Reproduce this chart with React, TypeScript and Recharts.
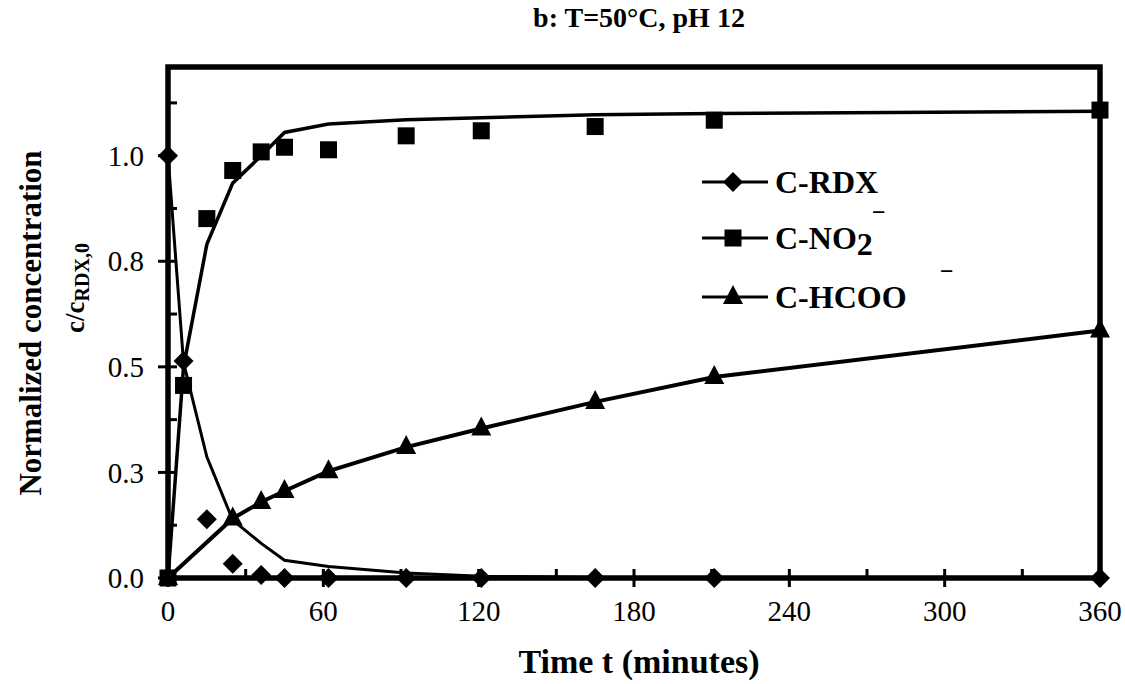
import React from "react";
import { ComposedChart, Line, Scatter, XAxis, YAxis, ReferenceArea } from "recharts";

// measured points (symbols)
const tObs = [0, 6, 15, 25, 36, 45, 62, 92, 121, 165, 211, 360];
const rdxObs = [1.0, 0.514, 0.139, 0.034, 0.007, 0, 0, 0, 0, 0, 0, 0];
const no2Obs = [0, 0.456, 0.851, 0.965, 1.009, 1.02, 1.014, 1.047, 1.059, 1.069, 1.084, 1.108];
const tHcoo = [0, 25, 36, 45, 62, 92, 121, 165, 211, 360];
const hcooObs = [0, 0.141, 0.18, 0.206, 0.253, 0.31, 0.354, 0.417, 0.476, 0.586];

// model curves (lines)
const tModel = [0, 6, 15, 25, 36, 45, 62, 92, 121, 165, 211, 360];
const rdxModel = [1.0, 0.51, 0.287, 0.137, 0.082, 0.042, 0.027, 0.012, 0.004, 0.001, 0, 0];
const no2Model = [0, 0.5, 0.79, 0.935, 1.0, 1.055, 1.075, 1.085, 1.09, 1.097, 1.1, 1.105];

const xMajor = [0, 60, 120, 180, 240, 300, 360];
const xMinor = [30, 90, 150, 210, 270, 330];
const yMajor = [0, 0.25, 0.5, 0.75, 1.0];
const yMinor = [0.125, 0.375, 0.625, 0.875, 1.125];

const legendNames = ["C-RDX", "C-NO", "C-HCOO"];

const FONT = "'Liberation Serif', 'Times New Roman', Times, serif";

const pts = (ts: number[], vs: number[]) => ts.map((t, i) => ({ t, v: vs[i] }));

const rdxPts = pts(tObs, rdxObs);
const no2Pts = pts(tObs, no2Obs);
const hcooPts = pts(tHcoo, hcooObs);
const rdxLine = pts(tModel, rdxModel);
const no2Line = pts(tModel, no2Model);

const diamond = (cx: number, cy: number, r = 10) => (
  <polygon points={`${cx},${cy - r} ${cx + r},${cy} ${cx},${cy + r} ${cx - r},${cy}`} fill="#000" />
);
const square = (cx: number, cy: number, s = 17) => (
  <rect x={cx - s / 2} y={cy - s / 2} width={s} height={s} fill="#000" />
);
const triangle = (cx: number, cy: number) => (
  <polygon points={`${cx},${cy - 12} ${cx + 10},${cy + 7} ${cx - 10},${cy + 7}`} fill="#000" />
);

function XTick(props: any) {
  const { x, y, payload } = props;
  const v = payload.value;
  const major = xMajor.includes(v);
  return (
    <g>
      <line x1={x} x2={x} y1={y - 9} y2={major ? y + 9 : y} stroke="#000" strokeWidth={3} />
      {major && (
        <text x={x} y={y + 43} textAnchor="middle" fontSize={29} fontFamily={FONT} fill="#000">
          {v}
        </text>
      )}
    </g>
  );
}

function YTick(props: any) {
  const { x, y, payload } = props;
  const v = payload.value;
  const major = yMajor.includes(v);
  return (
    <g>
      <line x1={major ? x - 10 : x} x2={x + 9} y1={y} y2={y} stroke="#000" strokeWidth={3} />
      {major && (
        <text x={x - 24} y={y} dy="0.35em" textAnchor="end" fontSize={29} fontFamily={FONT} fill="#000">
          {v.toFixed(1)}
        </text>
      )}
    </g>
  );
}

export default function App() {
  const legendRows = [
    { y: 182, mark: diamond },
    { y: 238, mark: square },
    { y: 297, mark: triangle },
  ];
  return (
    <div style={{ position: "absolute", left: 0, top: 0, width: 1125, height: 684, background: "#fff" }}>
      <ComposedChart width={1125} height={684} margin={{ top: 67, right: 25, bottom: 0, left: 0 }}>
        <XAxis
          dataKey="t"
          type="number"
          domain={[0, 360]}
          ticks={[...xMajor, ...xMinor].sort((a, b) => a - b)}
          interval={0}
          height={106}
          axisLine={false}
          tickLine={false}
          tickSize={0}
          tickMargin={0}
          tick={XTick}
        />
        <YAxis
          type="number"
          domain={[0, 1.21]}
          ticks={[...yMajor, ...yMinor].sort((a, b) => a - b)}
          interval={0}
          width={168}
          axisLine={false}
          tickLine={false}
          tickSize={0}
          tickMargin={0}
          tick={YTick}
        />
        <ReferenceArea x1={0} x2={360} y1={0} y2={1.21} fill="none" stroke="#000" strokeWidth={5.5} ifOverflow="visible" />
        <Line data={rdxLine} dataKey="v" type="linear" stroke="#000" strokeWidth={3} dot={false} isAnimationActive={false} />
        <Line data={no2Line} dataKey="v" type="linear" stroke="#000" strokeWidth={3.5} dot={false} isAnimationActive={false} />
        <Line data={hcooPts} dataKey="v" type="linear" stroke="#000" strokeWidth={4} dot={false} isAnimationActive={false} />
        <Scatter data={rdxPts} dataKey="v" isAnimationActive={false} shape={(p: any) => diamond(p.cx, p.cy)} />
        <Scatter data={no2Pts} dataKey="v" isAnimationActive={false} shape={(p: any) => square(p.cx, p.cy)} />
        <Scatter data={hcooPts} dataKey="v" isAnimationActive={false} shape={(p: any) => triangle(p.cx, p.cy)} />
      </ComposedChart>

      <svg width={1125} height={684} style={{ position: "absolute", left: 0, top: 0, pointerEvents: "none" }} fontFamily={FONT}>
        <text x={639} y={27} textAnchor="middle" fontSize={28} fontWeight="bold">
          b: T=50°C, pH 12
        </text>
        <text x={639} y={673} textAnchor="middle" fontSize={34} fontWeight="bold">
          Time t (minutes)
        </text>
        <text transform="translate(41,323) rotate(-90)" textAnchor="middle" fontSize={31} fontWeight="bold">
          Normalized concentration
        </text>
        <text transform="translate(84,288) rotate(-90)" textAnchor="middle" fontSize={27} fontWeight="bold">
          c/c<tspan fontSize={20} dy={5}>RDX,0</tspan>
        </text>

        {legendRows.map((r, i) => (
          <g key={legendNames[i]}>
            <line x1={702} x2={768} y1={r.y} y2={r.y} stroke="#000" strokeWidth={3} />
            {r.mark(733, r.y)}
          </g>
        ))}
        <text x={775} y={legendRows[0].y + 11} fontSize={32} fontWeight="bold">
          {legendNames[0]}
        </text>
        <text x={775} y={legendRows[1].y + 11} fontSize={32} fontWeight="bold">
          {legendNames[1]}
          <tspan dy={6}>2</tspan>
        </text>
        <text x={872} y={legendRows[1].y - 18} fontSize={24} fontWeight="bold">
          −
        </text>
        <text x={940} y={legendRows[2].y - 18} fontSize={24} fontWeight="bold">
          −
        </text>
        <text x={775} y={legendRows[2].y + 11} fontSize={32} fontWeight="bold">
          {legendNames[2]}
        </text>
      </svg>
    </div>
  );
}
